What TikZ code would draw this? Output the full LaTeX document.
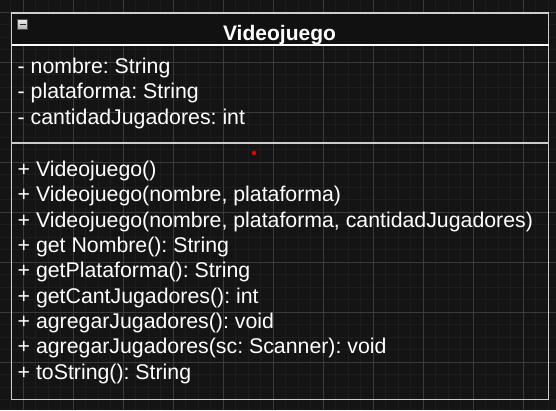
\documentclass[tikz,border=0pt]{standalone}
\usepackage{fontspec}
\setmainfont{Liberation Sans}
\definecolor{canvas}{RGB}{20,20,20}
\definecolor{headfill}{RGB}{17,17,17}
\definecolor{minorgrid}{RGB}{29,29,29}
\definecolor{majorgrid}{RGB}{58,58,58}
\definecolor{frameline}{RGB}{205,205,205}
\begin{document}
\begin{tikzpicture}[x=1pt, y=-1pt,
    member/.style={anchor=base west, inner sep=0pt, text=white,
      font=\fontsize{21.3}{25}\selectfont\frenchspacing},
    classname/.style={anchor=base, inner sep=0pt, text=white,
      font=\fontsize{21}{25}\selectfont\bfseries}]
    % canvas
    \path [use as bounding box, fill=canvas] (0, 0) rectangle (556, 410);
    \foreach \gx in {-2,10.5,...,560}
      \draw [minorgrid, line width=1] (\gx, 0) -- (\gx, 410);
    \foreach \gy in {-0.5,12,...,412}
      \draw [minorgrid, line width=1] (0, \gy) -- (556, \gy);
    \foreach \gx in {23,73,...,560}
      \draw [majorgrid, line width=1] (\gx, 0) -- (\gx, 410);
    \foreach \gy in {12,62,...,412}
      \draw [majorgrid, line width=1] (0, \gy) -- (556, \gy);
    % header
    \fill [headfill] (11.5, 13)
    -- (548.5, 13)
    -- (548.5, 45)
    -- (11.5, 45)
    -- cycle;
    % collapse button
    \draw [gray!60!black, top color=gray!15, bottom color=gray!60, line width=0.8]
      (17.5, 19.5) rectangle (27.5, 29);
    \draw [black!85, line width=1.6] (19.5, 24.3) -- (25.5, 24.3);
    \node [classname] (title) at (279.5, 40) {Videojuego};
    % class frame
    \draw [frameline, line width=1.8] (11.5, 13)
    -- (548.5, 13)
    -- (548.5, 399.5)
    -- (11.5, 399.5)
    -- cycle;
    \draw [white, line width=2] (11.5, 45.3) -- (548.5, 45.3);
    \draw [frameline, line width=2] (11.5, 142.5) -- (548.5, 142.5);
    % attributes
    \node [member] (attrnombre) at (17.5, 73.3) {- nombre: String};
    \node [member] (attrplataforma) at (17.5, 98.8) {- plataforma: String};
    \node [member] (attrjugadores) at (17.5, 124.2) {- cantidadJugadores: int};
    % methods
    \node [member] (ctorvacio) at (17.5, 176.5) {+ Videojuego()};
    \node [member] (ctordos) at (17.5, 201.8) {+ Videojuego(nombre, plataforma)};
    \node [member] (ctortres) at (17.5, 227.2) {+ Videojuego(nombre, plataforma, cantidadJugadores)};
    \node [member] (getnombre) at (17.5, 252.5) {+ get Nombre(): String};
    \node [member] (getplataforma) at (17.5, 277.9) {+ getPlataforma(): String};
    \node [member] (getcant) at (17.5, 303.2) {+ getCantJugadores(): int};
    \node [member] (agregar) at (17.5, 328.6) {+ agregarJugadores(): void};
    \node [member] (agregarsc) at (17.5, 353.9) {+ agregarJugadores(sc: Scanner): void};
    \node [member] (tostring) at (17.5, 379.3) {+ toString(): String};
    % cursor mark
    \fill [red!90!black] (254, 153) circle (2.3);
\end{tikzpicture}
\end{document}
